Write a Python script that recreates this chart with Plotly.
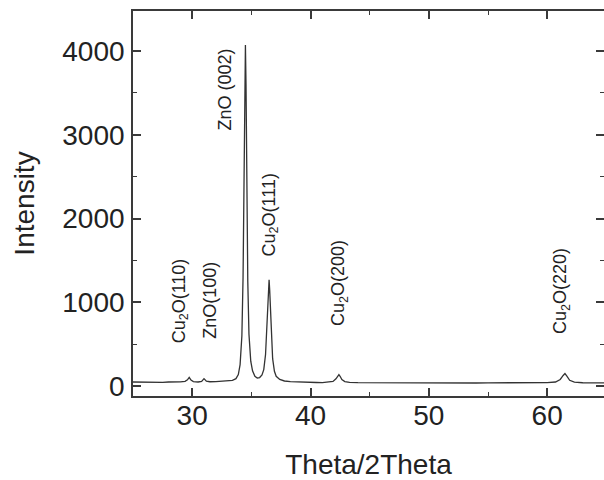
import plotly.graph_objects as go

# XRD scan: diffraction angle (2θ, degrees) and detector counts
two_theta = [
    25.0, 25.5, 26.0, 26.5, 27.0, 27.5, 28.0, 28.5, 29.0, 29.4,
    29.6, 29.75, 29.9, 30.1, 30.5, 30.8, 31.0, 31.2, 31.5, 32.0,
    32.5, 33.0, 33.4, 33.7, 33.9, 34.05, 34.2, 34.3, 34.4, 34.45,
    34.5, 34.55, 34.6, 34.7, 34.8, 34.95, 35.1, 35.3, 35.5, 35.7,
    35.9, 36.05, 36.2, 36.3, 36.4, 36.45, 36.5, 36.55, 36.6, 36.7,
    36.8, 36.95, 37.1, 37.4, 37.8, 38.3, 39.0, 39.5, 40.0, 40.5,
    41.0, 41.5, 41.9, 42.15, 42.3, 42.4, 42.5, 42.65, 42.9, 43.3,
    44.0, 45.0, 46.0, 47.0, 48.0, 49.0, 50.0, 51.0, 52.0, 53.0,
    54.0, 55.0, 56.0, 57.0, 58.0, 59.0, 60.0, 60.7, 61.1, 61.35,
    61.5, 61.65, 61.9, 62.3, 63.0, 64.0, 65.0,
]
intensity = [
    52, 50, 53, 49, 51, 48, 52, 50, 53, 60,
    78, 108, 74, 56, 52, 60, 92, 62, 55, 56,
    60, 64, 72, 92, 140, 260, 600, 1300, 2900, 3700,
    4070, 3600, 2700, 1250, 620, 300, 185, 120, 100, 105,
    135, 200, 380, 640, 1000, 1180, 1270, 1150, 930, 560,
    330, 180, 120, 82, 64, 56, 50, 48, 47, 46,
    45, 48, 58, 90, 125, 140, 120, 80, 56, 47,
    44, 43, 44, 42, 43, 41, 43, 42, 41, 42,
    40, 42, 41, 40, 41, 42, 44, 52, 82, 130,
    152, 125, 72, 50, 43, 42, 41,
]

# Reflection labels: text, 2θ position and intensity position of their centre
peak_labels = ["Cu<sub>2</sub>O(110)", "ZnO(100)", "ZnO (002)",
               "Cu<sub>2</sub>O(111)", "Cu<sub>2</sub>O(200)", "Cu<sub>2</sub>O(220)"]
label_x = [28.97, 31.5, 32.78, 36.58, 42.5, 61.26]
label_y = [1025, 1031, 3540, 2038, 1234, 1138]

FONT = "Liberation Sans, Arial, sans-serif"
INK = "#222222"
AXIS = "#3a3a3a"

fig = go.Figure()
fig.add_trace(go.Scatter(
    x=two_theta, y=intensity, mode="lines",
    line=dict(color="#333333", width=1.3),
    showlegend=False, hoverinfo="skip",
))
# empty trace so the right-hand tick axis is rendered
fig.add_trace(go.Scatter(x=[None], y=[None], yaxis="y2",
                         showlegend=False, hoverinfo="skip"))

for txt, lx, ly in zip(peak_labels, label_x, label_y):
    fig.add_annotation(
        x=lx, y=ly, xref="x", yref="y", text=txt, textangle=-90,
        showarrow=False, xanchor="center", yanchor="middle",
        font=dict(family=FONT, size=18, color=INK),
    )

tick_common = dict(
    ticks="inside", ticklen=8, tickwidth=1.5, tickcolor=AXIS,
    minor=dict(ticks="inside", ticklen=4, tickwidth=1.3, tickcolor=AXIS),
    showgrid=False, zeroline=False, automargin=False,
)

fig.update_layout(
    width=604, height=480,
    margin=dict(l=133, r=0, t=11, b=84, autoexpand=False),
    paper_bgcolor="white", plot_bgcolor="white",
    font=dict(family=FONT, color=INK),
    xaxis=dict(
        range=[25, 64.8], tick0=0, dtick=10,
        minor_dtick=5,
        showline=True, linecolor=AXIS, linewidth=1.6, mirror="ticks",
        tickfont=dict(size=28, color=INK), ticklabelstandoff=-6,
        title=dict(text="Theta/2Theta", font=dict(size=28, color=INK), standoff=33),
        **tick_common,
    ),
    yaxis=dict(
        range=[-115, 4475], tick0=0, dtick=1000,
        minor_dtick=500,
        showline=True, linecolor=AXIS, linewidth=1.6, mirror=False,
        tickfont=dict(size=28, color=INK), ticklabelstandoff=1,
        title=dict(text="Intensity", font=dict(size=28, color=INK), standoff=20),
        **tick_common,
    ),
    yaxis2=dict(
        overlaying="y", side="right", anchor="x",
        range=[-115, 4475], tick0=0, dtick=1000, minor_dtick=500,
        showline=False, showticklabels=False,
        **tick_common,
    ),
)

fig.write_html("out.html")
